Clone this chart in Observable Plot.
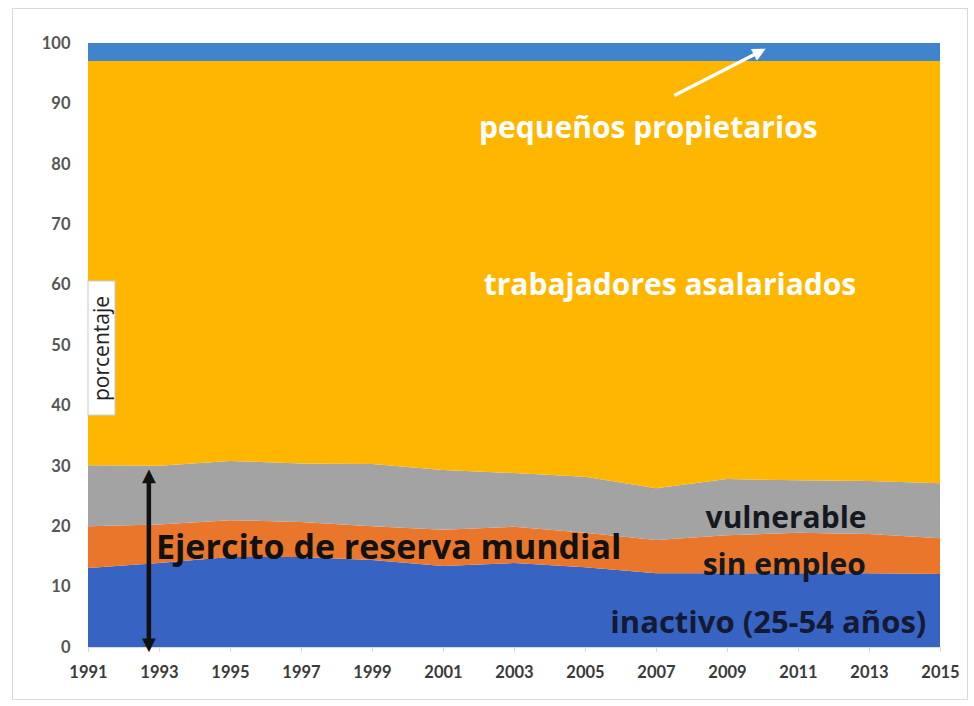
<!DOCTYPE html>
<html>
<head>
<meta charset="utf-8">
<script src="https://cdn.jsdelivr.net/npm/d3@7"></script>
<script src="https://cdn.jsdelivr.net/npm/@observablehq/plot@0.6"></script>
<style>
  body { margin: 0; background: #fff; }
  #wrap { position: relative; width: 974px; height: 706px; }
  #border { position: absolute; left: 12px; top: 8px; width: 954px; height: 690px; border: 1px solid #d9d9d9; pointer-events: none; }
</style>
</head>
<body>
<div id="wrap"><div id="border"></div></div>
<script>
const years = [1991, 1993, 1995, 1997, 1999, 2001, 2003, 2005, 2007, 2009, 2011, 2013, 2015];
const series = ["inactivo (25-54 años)", "sin empleo", "vulnerable", "trabajadores asalariados", "pequeños propietarios"];
const inactivo     = [13.1, 13.9, 14.9, 14.9, 14.4, 13.4, 13.9, 13.2, 12.2, 12.2, 12.2, 12.2, 12.1];
const sinEmpleo    = [6.9, 6.4, 6.1, 5.8, 5.6, 6.0, 6.0, 5.7, 5.5, 6.3, 6.7, 6.5, 5.9];
const vulnerable   = [10.1, 9.7, 9.8, 9.7, 10.3, 9.9, 8.9, 9.3, 8.6, 9.3, 8.7, 8.8, 9.1];
const asalariados  = [66.9, 67.0, 66.2, 66.6, 66.7, 67.7, 68.2, 68.8, 70.7, 69.2, 69.4, 69.5, 69.9];
const propietarios = [3, 3, 3, 3, 3, 3, 3, 3, 3, 3, 3, 3, 3];
const colors = ["#3763c3", "#ea762c", "#a3a3a3", "#ffb600", "#4084cc"];
const yTicks = [0, 10, 20, 30, 40, 50, 60, 70, 80, 90, 100];

const valuesBySeries = [inactivo, sinEmpleo, vulnerable, asalariados, propietarios];
const data = [];
series.forEach((s, i) => years.forEach((yr, j) => data.push({year: yr, series: s, value: valuesBySeries[i][j]})));

const tickFont = "Lato, sans-serif";
const labelFont = "'Open Sans', sans-serif";

const chart = Plot.plot({
  width: 974,
  height: 706,
  marginLeft: 88,
  marginRight: 34,
  marginTop: 43,
  marginBottom: 59,
  style: {fontFamily: tickFont, background: "transparent", overflow: "visible"},
  x: {domain: [1991, 2015], label: null},
  y: {domain: [0, 100], label: null},
  color: {domain: series, range: colors},
  marks: [
    Plot.areaY(data, {x: "year", y: "value", fill: "series", order: series, curve: "linear"}),
    Plot.ruleY([0], {stroke: "#d9d9d9"}),
    Plot.axisX({ticks: years, tickFormat: d => String(d), tickSize: 5, tickPadding: 14, stroke: "#d9d9d9", fill: "#3a3a3a", fontSize: 16.5, fontWeight: "bold", label: null}),
    Plot.axisY({ticks: yTicks, tickSize: 0, tickPadding: 18, fill: "#555", fontSize: 16.5, fontWeight: "bold", label: null}),
    // porcentaje label box
    Plot.rect([{x1: 1991, x2: 1991.76, y1: 38.4, y2: 60.6}], {x1: "x1", x2: "x2", y1: "y1", y2: "y2", fill: "white", stroke: "#c8c8d8", strokeWidth: 1}),
    Plot.text(["porcentaje"], {x: 1991.4, y: 49.5, rotate: -90, fontSize: 21, fill: "#222", fontFamily: labelFont}),
    // white arrow
    Plot.link([{x1: 2007.5, y1: 91.4, x2: 2009.8, y2: 98.3}], {x1: "x1", y1: "y1", x2: "x2", y2: "y2", stroke: "white", strokeWidth: 3.5}),
    Plot.text(["▲"], {x: 2009.93, y: 98.7, rotate: 63, fontSize: 17, fill: "white", fontFamily: "'DejaVu Sans'"}),
    // black double arrow
    Plot.link([{x: 1992.7, y1: 1.2, y2: 28.5}], {x1: "x", x2: "x", y1: "y1", y2: "y2", stroke: "#111", strokeWidth: 4.5}),
    Plot.text(["▲"], {x: 1992.7, y: 28.6, fontSize: 18, fill: "#111", fontFamily: "'DejaVu Sans'"}),
    Plot.text(["▼"], {x: 1992.7, y: 0.6, fontSize: 18, fill: "#111", fontFamily: "'DejaVu Sans'"}),
    // labels
    Plot.text(["pequeños propietarios"], {x: 2006.77, y: 85.9, fontSize: 30, fontWeight: "bold", fill: "white", fontFamily: labelFont}),
    Plot.text(["trabajadores asalariados"], {x: 2007.38, y: 59.9, fontSize: 30, fontWeight: "bold", fill: "white", fontFamily: labelFont}),
    Plot.text(["vulnerable"], {x: 2010.65, y: 21.4, fontSize: 30, fontWeight: "bold", fill: "#15181f", fontFamily: labelFont}),
    Plot.text(["sin empleo"], {x: 2010.6, y: 13.6, fontSize: 30, fontWeight: "bold", fill: "#15181f", fontFamily: labelFont}),
    Plot.text(["inactivo (25-54 años)"], {x: 2010.15, y: 4.1, fontSize: 31, fontWeight: "bold", fill: "#141a33", fontFamily: labelFont}),
    Plot.text(["Ejercito de reserva mundial"], {x: 1992.9, y: 16.4, textAnchor: "start", fontSize: 34, fontWeight: "bold", fill: "#111", fontFamily: labelFont})
  ]
});
document.getElementById("wrap").prepend(chart);
</script>
</body>
</html>
